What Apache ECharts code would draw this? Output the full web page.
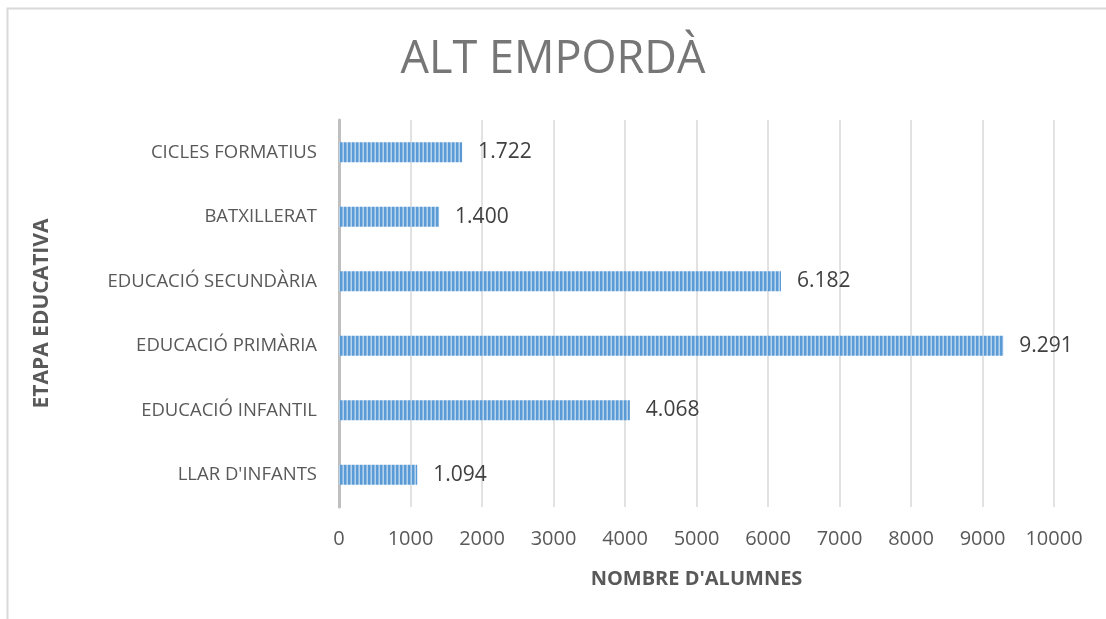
<!DOCTYPE html>
<html>
<head>
<meta charset="utf-8">
<script src="https://cdn.jsdelivr.net/npm/echarts@6/dist/echarts.min.js"></script>
<style>
  html, body { margin: 0; padding: 0; background: #fff; }
  #chart { width: 1106px; height: 619px; }
</style>
</head>
<body>
<div id="chart"></div>
<script>
  // etapes, de baix a dalt
  const categories = ["LLAR D'INFANTS", "EDUCACIÓ INFANTIL", "EDUCACIÓ PRIMÀRIA", "EDUCACIÓ SECUNDÀRIA", "BATXILLERAT", "CICLES FORMATIUS"];
  const alumnes = [1094, 4068, 9291, 6182, 1400, 1722];
  const xTicks = [0, 1000, 2000, 3000, 4000, 5000, 6000, 7000, 8000, 9000, 10000];

  // trama de ratlles verticals
  function stripes() {
    const c = document.createElement("canvas");
    c.width = 4;
    c.height = 4;
    const ctx = c.getContext("2d");
    ctx.fillStyle = "#5b9bd5";
    ctx.fillRect(0, 0, 4, 4);
    ctx.fillStyle = "#8dbbe4";
    ctx.fillRect(2, 0, 1, 4);
    ctx.fillStyle = "#b4d2ee";
    ctx.fillRect(3, 0, 1, 4);
    return c;
  }

  const chart = echarts.init(document.getElementById("chart"));
  const fnt = "'Open Sans', 'Liberation Sans', sans-serif";

  chart.setOption({
    animation: false,
    title: {
      text: "ALT EMPORDÀ",
      left: "center",
      top: 33,
      textStyle: { fontFamily: fnt, fontSize: 45, fontWeight: "normal", color: "#767676" }
    },
    graphic: [{
      type: "rect",
      shape: { x: 7.5, y: 8.5, width: 1200, height: 700 },
      style: { fill: "none", stroke: "#d9d9d9", lineWidth: 2 },
      silent: true
    }],
    grid: { left: 339, right: 52, top: 120, bottom: 112 },
    xAxis: {
      type: "value",
      min: 0,
      max: 10000,
      interval: 1000,
      name: "NOMBRE D'ALUMNES",
      nameLocation: "middle",
      nameGap: 62,
      nameTextStyle: { fontFamily: fnt, fontSize: 20, fontWeight: "bold", color: "#595959" },
      axisLine: { show: false },
      axisTick: { show: false },
      axisLabel: {
        fontFamily: fnt, fontSize: 20, color: "#595959", margin: 22,
        formatter: v => xTicks.includes(v) ? String(v) : ""
      },
      splitLine: { lineStyle: { color: "#d9d9d9", width: 1.5 } }
    },
    yAxis: {
      type: "category",
      data: categories,
      name: "ETAPA EDUCATIVA",
      nameLocation: "middle",
      nameRotate: 90,
      nameGap: 286,
      nameTextStyle: { fontFamily: fnt, fontSize: 21, fontWeight: "bold", color: "#595959" },
      axisLine: { lineStyle: { color: "#bfbfbf", width: 3 } },
      axisTick: { show: false },
      axisLabel: { fontFamily: fnt, fontSize: 18.5, color: "#595959", margin: 22 }
    },
    series: [{
      type: "bar",
      data: alumnes,
      barWidth: 20,
      itemStyle: { color: { image: stripes(), repeat: "repeat" } },
      label: {
        show: true,
        position: "right",
        distance: 16,
        fontFamily: fnt,
        fontSize: 21,
        color: "#404040",
        formatter: p => p.value.toLocaleString("de-DE")
      }
    }]
  });
</script>
</body>
</html>
